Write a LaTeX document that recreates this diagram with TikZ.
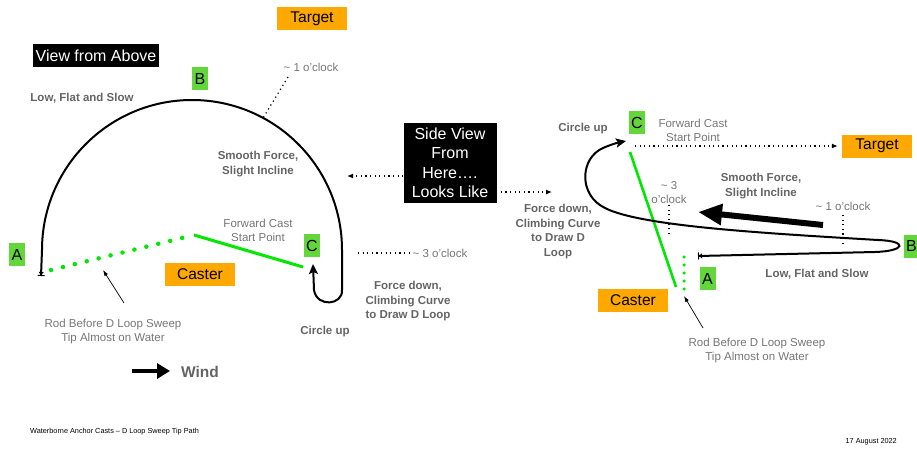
\documentclass[tikz,border=0pt]{standalone}
\usepackage{fontspec}
\setmainfont{Liberation Sans}
\usetikzlibrary{arrows.meta}
\definecolor{orng}{RGB}{255,168,0}
\definecolor{lgreen}{RGB}{98,214,58}
\definecolor{rodgreen}{RGB}{0,232,0}
\definecolor{txtgray}{RGB}{100,100,100}
\definecolor{notegray}{RGB}{118,118,118}

\begin{document}
\begin{tikzpicture}[x=1pt,y=-1pt]
\tikzstyle{every node}=[font=\fontsize{11.5}{14}\selectfont,align=center,inner sep=0pt]
\tikzstyle{tag}=[fill=orng,minimum width=70pt,minimum height=23pt,font=\fontsize{15.5}{18}\selectfont]
\tikzstyle{lett}=[fill=lgreen,minimum width=16pt,minimum height=23pt,font=\fontsize{16}{18}\selectfont]
\tikzstyle{title}=[fill=black,text=white,inner xsep=3pt,minimum height=23pt,font=\fontsize{16}{19.5}\selectfont]
\tikzstyle{bold}=[text=txtgray,font=\bfseries\fontsize{11.5}{14.5}\selectfont]
\tikzstyle{note}=[text=notegray]
\tikzstyle{tippath}=[line width=2pt,line cap=round,{Bar[width=7pt,line width=1pt]Triangle[length=3pt,width=5pt]}-{Stealth[length=10pt,width=9pt,inset=2pt]}]
\tikzstyle{rod}=[rodgreen,line width=3pt]
\tikzstyle{roddots}=[rodgreen,line width=4.5pt,line cap=round,dash pattern=on 0pt off 12.27pt]
\tikzstyle{dotline}=[line width=1.2pt,dash pattern=on 1.2pt off 3.4pt]
\tikzstyle{dotarrow}=[dotline,-{Latex[length=6pt,width=5pt]}]
\tikzstyle{thinarrow}=[line width=0.7pt,-{Latex[length=6pt,width=4pt]}]
\useasboundingbox (0,0) rectangle (917,450);

\node[tag] (target) at (312,18.5) {Target};
\node[title] (view) at (96,55.5) {View from Above};
\node[lett] (B) at (200,78.5) {B};
\node[bold] (lfs) at (82,98) {Low, Flat and Slow};
\node[note] (one) at (311,67) {\textasciitilde{} 1 o’clock};
\node[bold] (smooth) at (258,164) {Smooth Force,\\Slight Incline};
\node[note] (fwd) at (258,230.5) {Forward Cast\\Start Point};
\node[lett] (C) at (312,245.5) {C};
\node[lett] (A) at (17,254.5) {A};
\node[tag] (caster) at (200,274.5) {Caster};
\node[note] (three) at (440,253) {\textasciitilde{} 3 o’clock};
\node[bold] (force) at (408,301.5) {Force down,\\Climbing Curve\\to Draw D Loop};
\node[bold] (circ) at (325,332) {Circle up};
\node[note] (rod) at (113,331.5) {Rod Before D Loop Sweep\\Tip Almost on Water};
\node[bold,font=\bfseries\fontsize{15.5}{18}\selectfont] (wind) at (200,372) {Wind};

\coordinate (onept) at (263,118);
\coordinate (oneend) at (288,77);
\coordinate (aend) at (41,276);
\coordinate (cend) at (313,264);
\coordinate (rodA) at (51,270);
\coordinate (rodB) at (194,235);
\coordinate (rodC) at (303,267);
\coordinate (threept) at (358,253);
\coordinate (rodtip) at (103,270);
\coordinate (rodfoot) at (124,303);
\coordinate (windfoot) at (132,371);
\coordinate (windtip) at (170,371);

\draw[dotline] (oneend) -- (onept);
\draw[tippath] (aend) -- (42,250) arc[start angle=180,end angle=360,radius=150] -- (342,290) .. controls (343,305) and (317,308) .. (314,290) -- (cend);
\draw[roddots] (rodA) -- (rodB);
\draw[rod] (rodB) -- (rodC);
\draw[dotline] (threept) -- (three.west);
\draw[thinarrow] (rodfoot) -- (rodtip);
\draw[line width=4pt,-{Triangle[length=13pt,width=15pt]}] (windfoot) -- (windtip);

\node[title,minimum width=93pt,minimum height=80pt] (side) at (450,163) {Side View\\From\\Here….\\Looks Like};
\coordinate (sideL) at (347,176);
\coordinate (sideR) at (552,192);
\draw[dotarrow] (side.west |- sideL) -- (sideL);
\draw[dotarrow] ([xshift=4pt]side.east |- sideR) -- (sideR);
\node[bold] (force2) at (558,231.5) {Force down,\\Climbing Curve\\to Draw D\\Loop};

\node[bold] (circ2) at (583,129) {Circle up};
\node[lett] (C2) at (637,122.5) {C};
\node[note] (fwd2) at (693,130) {Forward Cast\\Start Point};
\node[tag] (target2) at (877,146) {Target};
\node[bold] (smooth2) at (761,186) {Smooth Force,\\Slight Incline};
\node[note] (three2) at (669,193) {\textasciitilde{} 3\\o’clock};
\node[note] (one2) at (843,206) {\textasciitilde{} 1 o’clock};
\node[lett] (B2) at (911.5,246) {B};
\node[lett] (A2) at (707.5,278.5) {A};
\node[bold] (lfs2) at (817,274) {Low, Flat and Slow};
\node[tag] (caster2) at (633,300.5) {Caster};
\node[note] (rod2) at (757,350.5) {Rod Before D Loop Sweep\\Tip Almost on Water};

\coordinate (cstart) at (635,146);
\coordinate (aend2) at (698,256);
\coordinate (cend2) at (626,141);
\coordinate (rodtop) at (630,152);
\coordinate (rodbot) at (676,287);
\coordinate (dots2a) at (684,257);
\coordinate (dots2b) at (684,289);
\coordinate (forcefoot) at (823,225);
\coordinate (forcetip) at (698,212);
\coordinate (threetop) at (669,205);
\coordinate (threebot) at (669,236);
\coordinate (onetop) at (843,215);
\coordinate (onebot) at (843,245);
\coordinate (rodtip2) at (684,296);
\coordinate (rodfoot2) at (703,328);

\draw[dotarrow,shorten >=4pt] (cstart) -- (target2.west);
\draw[rod,line width=2.6pt] (rodtop) -- (rodbot);
\draw[roddots,line width=3.5pt,dash pattern=on 0pt off 8pt] (dots2a) -- (dots2b);
\draw[dotline] (threetop) -- (threebot);
\draw[dotline] (onetop) -- (onebot);
\draw[tippath] (aend2) -- (875,252) .. controls (906,251) and (908,241) .. (878,240) .. controls (760,233) and (640,226) .. (605,208) .. controls (578,195) and (580,158) .. (603,148) .. controls (610,145) and (616,143) .. (cend2);
\draw[line width=6pt,-{Triangle[length=24pt,width=20pt]}] (forcefoot) -- (forcetip);
\draw[thinarrow] (rodfoot2) -- (rodtip2);

\node[anchor=west,font=\fontsize{7.3}{9}\selectfont] (foot) at (30,432) {Waterborne Anchor Casts – D Loop Sweep Tip Path};
\node[anchor=east,font=\fontsize{7.3}{9}\selectfont] (date) at (897,442) {17 August 2022};
\end{tikzpicture}
\end{document}
